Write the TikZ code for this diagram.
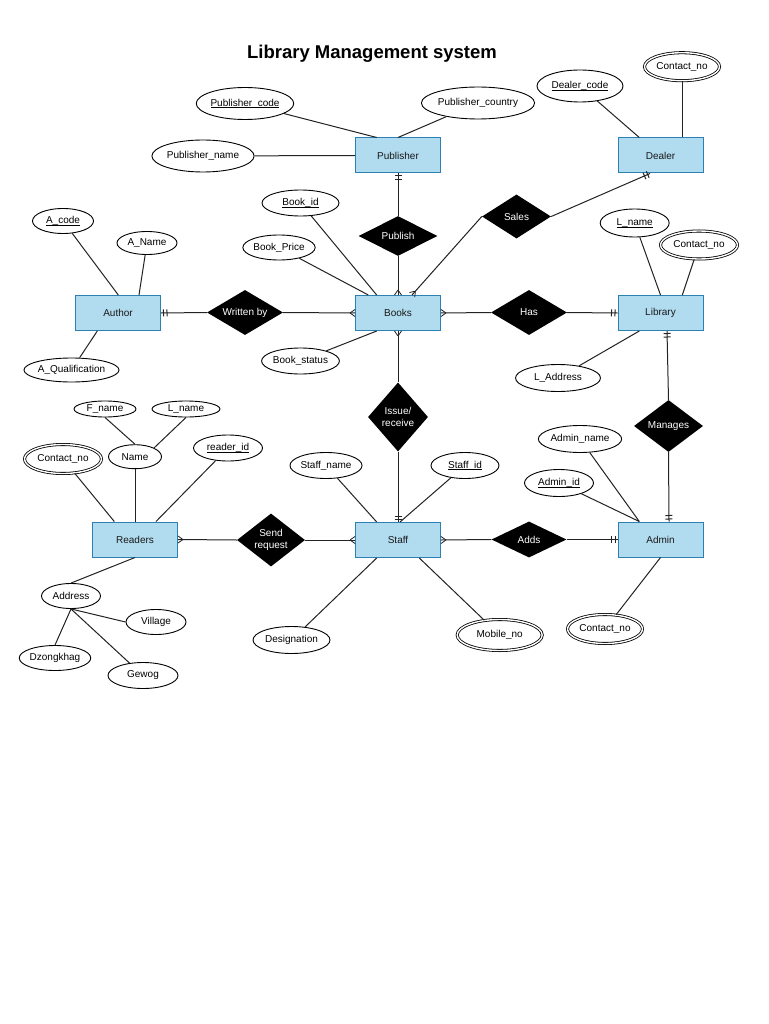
\documentclass[tikz,border=0pt]{standalone}
\usepackage{fontspec}
\setmainfont{Liberation Sans}
\usetikzlibrary{shapes.geometric,decorations.markings,calc}
\definecolor{entfill}{RGB}{177,219,238}
\definecolor{entdraw}{RGB}{45,128,178}
\definecolor{txt}{RGB}{25,25,25}
\definecolor{lne}{RGB}{35,35,35}
\newcommand{\ulkey}[1]{\rlap{\smash{\underline{\smash{#1}}}}\phantom{#1}}
\tikzset{
  ent/.style={rectangle, draw=entdraw, fill=entfill, minimum width=85pt, minimum height=35pt, inner sep=0pt, line width=1pt, text=txt},
  attr/.style={ellipse, draw=black, fill=white, inner sep=0pt, line width=0.9pt, text=black},
  mattr/.style={attr, line width=0.8pt, double=white, double distance=1.4pt},
  rel/.style={diamond, fill=black, text=white, inner sep=0pt, align=center},
  conn/.style={draw=lne, line width=1pt},
  onemark/.style={postaction={decorate, decoration={markings,
     mark=at position -2.5pt with {\draw[lne,line width=1pt] (0pt,-3.5pt)--(0pt,3.5pt);},
     mark=at position -6pt with {\draw[lne,line width=1pt] (0pt,-3.5pt)--(0pt,3.5pt);}}}},
  manymark/.style={postaction={decorate, decoration={markings,
     mark=at position -5pt with {\draw[lne,line width=0.8pt] (0pt,0pt)--(5pt,3.5pt) (0pt,0pt)--(5pt,-3.5pt);}}}}
}
\begin{document}
\begin{tikzpicture}[x=1pt,y=-1pt,font=\fontsize{10}{12.5}\selectfont]
\fill[white] (0,0) rectangle (768,1024);
\useasboundingbox (0,0) rectangle (768,1024);

\node (title) at (372,54) {\fontsize{18.5}{22}\selectfont\bfseries Library Management system};

% entities
\node[ent] (pub) at (398,155.5) {Publisher};
\node[ent] (dealer) at (660.5,155.5) {Dealer};
\node[ent] (author) at (118,313) {Author};
\node[ent] (books) at (398,313) {Books};
\node[ent] (library) at (660.5,313) {Library};
\node[ent] (readers) at (135,539.5) {Readers};
\node[ent] (staff) at (398,540) {Staff};
\node[ent] (admin) at (660.5,539.5) {Admin};

% relationships
\node[rel, draw={RGB:red,30;green,120;blue,170}, line width=0.9pt, aspect=2, minimum width=77pt, minimum height=39pt] (publish) at (398,236) {Publish};
\node[rel, aspect=1.57, minimum width=69pt, minimum height=44pt] (sales) at (516.5,216.5) {Sales};
\node[rel, aspect=1.7, minimum width=76pt, minimum height=45pt] (written) at (245,312.5) {Written by};
\node[rel, aspect=1.7, minimum width=76pt, minimum height=45pt] (has) at (529,312.5) {Has};
\node[rel, aspect=0.87, minimum width=60pt, minimum height=69pt] (issue) at (398,417) {Issue/\\receive};
\node[rel, aspect=1.28, minimum width=68pt, minimum height=53pt] (send) at (271,540) {Send\\request};
\node[rel, aspect=2.08, minimum width=75pt, minimum height=36pt] (adds) at (529,539.5) {Adds};
\node[rel, aspect=1.33, minimum width=69pt, minimum height=52pt] (manages) at (668.5,426) {Manages};

% attributes
\node[attr, minimum width=85pt, minimum height=32pt] (pcode) at (245,103.5) {\ulkey{Publisher\_code}};
\node[attr, minimum width=85pt, minimum height=32pt] (pcountry) at (478,103) {Publisher\_country};
\node[attr, minimum width=86pt, minimum height=32pt] (pname) at (203,156) {Publisher\_name};
\node[attr, minimum width=86pt, minimum height=32pt] (dcode) at (580,86) {\ulkey{Dealer\_code}};
\node[mattr, minimum width=75pt, minimum height=28pt] (dcontact) at (682,66.7) {Contact\_no};
\node[attr, minimum width=61pt, minimum height=25pt] (acode) at (63,221) {\ulkey{A\_code}};
\node[attr, minimum width=60pt, minimum height=23pt] (aname) at (147,243) {A\_Name};
\node[attr, minimum width=95pt, minimum height=24pt] (aqual) at (71.5,370) {A\_Qualification};
\node[attr, minimum width=77pt, minimum height=26pt] (bookid) at (300.5,203) {\ulkey{Book\_id}};
\node[attr, minimum width=68pt, minimum height=25pt] (bprice) at (279,247.5) {Book\_Price};
\node[attr, minimum width=77pt, minimum height=26pt] (bstatus) at (300.5,361) {Book\_status};
\node[attr, minimum width=69pt, minimum height=28pt] (lname) at (634.7,223) {\ulkey{L\_name}};
\node[mattr, minimum width=77pt, minimum height=28pt] (lcontact) at (699,245) {Contact\_no};
\node[attr, minimum width=85pt, minimum height=27pt] (laddr) at (558,378) {L\_Address};
\node[attr, minimum width=62pt, minimum height=16pt] (fname) at (105,409) {F\_name};
\node[attr, minimum width=68pt, minimum height=16pt] (rlname) at (186,409) {L\_name};
\node[attr, minimum width=53pt, minimum height=24pt] (name) at (135,456.7) {Name};
\node[mattr, minimum width=77pt, minimum height=29pt] (rcontact) at (63,459) {Contact\_no};
\node[attr, minimum width=69pt, minimum height=26pt] (readerid) at (228,448) {\ulkey{reader\_id}};
\node[attr, minimum width=59pt, minimum height=25pt] (address) at (71,596) {Address};
\node[attr, minimum width=60pt, minimum height=25pt] (village) at (156,622) {Village};
\node[attr, minimum width=62pt, minimum height=25pt] (dzong) at (55,658) {Dzongkhag};
\node[attr, minimum width=70pt, minimum height=26pt] (gewog) at (143,675.5) {Gewog};
\node[attr, minimum width=77pt, minimum height=27pt] (desig) at (291.5,640) {Designation};
\node[attr, minimum width=70pt, minimum height=26pt] (staffname) at (326,465.5) {Staff\_name};
\node[attr, minimum width=68pt, minimum height=26pt] (staffid) at (465,465.5) {\ulkey{Staff\_id}};
\node[mattr, minimum width=85pt, minimum height=31pt] (mobile) at (499.7,635) {Mobile\_no};
\node[attr, minimum width=78pt, minimum height=27pt] (adminname) at (580,439) {Admin\_name};
\node[attr, minimum width=69pt, minimum height=27pt] (adminid) at (559,483) {\ulkey{Admin\_id}};
\node[mattr, minimum width=75pt, minimum height=29pt] (acontact) at (605,629) {Contact\_no};

% relationship connectors
\draw[conn,onemark] (publish.north) -- (pub.south);
\draw[conn,manymark] (publish.south) -- (books.north);
\draw[conn,manymark] (written.east) -- (books.west);
\draw[conn,onemark] (written.west) -- (author.east);
\draw[conn,manymark] (has.west) -- (books.east);
\draw[conn,onemark] (has.east) -- (library.west);
\draw[conn,manymark] (sales.west) -- ([xshift=14pt]books.north);
\draw[conn,onemark] (sales.east) -- ([xshift=-10.5pt]dealer.south);
\draw[conn,manymark] (issue.north) -- (books.south);
\draw[conn,onemark] (issue.south) -- (staff.north);
\draw[conn,onemark] (manages.north) -- ([xshift=6.5pt]library.south);
\draw[conn,onemark] (manages.south) -- ([xshift=8.5pt]admin.north);
\draw[conn,manymark] (send.west) -- (readers.east);
\draw[conn,manymark] (send.east) -- (staff.west);
\draw[conn,manymark] (adds.west) -- (staff.east);
\draw[conn,onemark] (adds.east) -- (admin.west);

% attribute connectors
\draw[conn] (pcode) -- ([xshift=-21.3pt]pub.north);
\draw[conn] (pcountry) -- (pub.north);
\draw[conn] (pname) -- (pub.west);
\draw[conn] (dcode) -- ([xshift=-21.2pt]dealer.north);
\draw[conn] (dcontact.south) -- ([xshift=21.5pt]dealer.north);
\draw[conn] (acode) -- ([xshift=0.3pt]author.north);
\draw[conn] (aname) -- ([xshift=21pt]author.north);
\draw[conn] (aqual) -- ([xshift=-20.7pt]author.south);
\draw[conn] (bookid) -- ([xshift=-21.3pt]books.north);
\draw[conn] (bprice) -- ([xshift=-29.7pt]books.north);
\draw[conn] (bstatus) -- ([xshift=-21.3pt]books.south);
\draw[conn] (lname) -- (library.north);
\draw[conn] (lcontact) -- ([xshift=21.8pt]library.north);
\draw[conn] (laddr) -- ([xshift=-21.2pt]library.south);
\draw[conn] (name) -- (readers.north);
\draw[conn] (fname.south) -- (name.north);
\draw[conn] (rlname.south) -- (name.north east);
\draw[conn] (rcontact) -- ([xshift=-20.7pt]readers.north);
\draw[conn] (readerid) -- ([xshift=21pt]readers.north);
\draw[conn] (readers.south) -- (address.north);
\draw[conn] (address.south) -- (village.west);
\draw[conn] (address.south) -- (dzong.north);
\draw[conn] (address.south) -- (gewog);
\draw[conn] (staffname) -- ([xshift=-21.3pt]staff.north);
\draw[conn] (staffid) -- ([xshift=2pt]staff.north);
\draw[conn] (desig) -- ([xshift=-21.3pt]staff.south);
\draw[conn] (mobile) -- ([xshift=21.3pt]staff.south);
\draw[conn] (adminname) -- ([xshift=-21.2pt]admin.north);
\draw[conn] (adminid) -- ([xshift=-21.2pt]admin.north);
\draw[conn] (acontact) -- (admin.south);
\end{tikzpicture}
\end{document}
